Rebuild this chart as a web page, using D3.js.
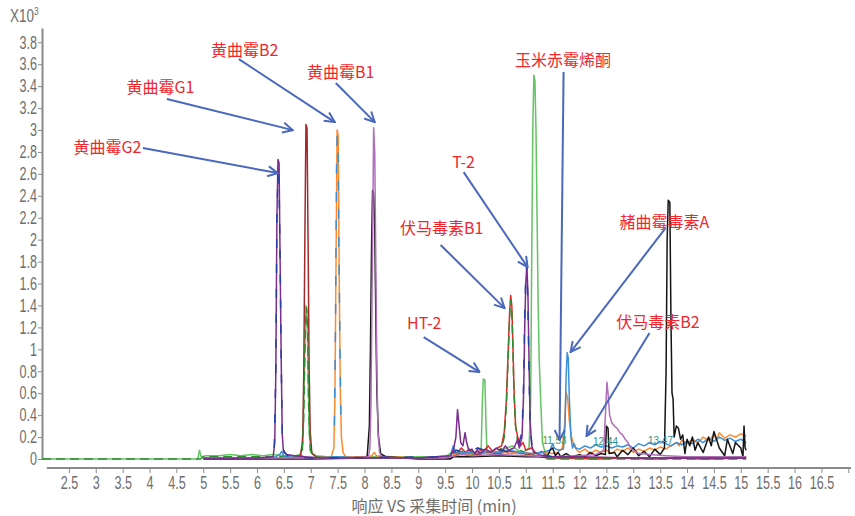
<!DOCTYPE html>
<html>
<head>
<meta charset="utf-8">
<script src="https://cdn.jsdelivr.net/npm/d3@7"></script>
<style>
  body { margin: 0; background: #fff; }
  svg { display: block; }
  .axis text { font-family: 'Liberation Sans', Arial, sans-serif; font-size: 18px; fill: #6e6e6e; }
  .axis line, .axis path { stroke: #8a8a8a; }
  .axis-title { font-family: 'Noto Sans CJK SC', sans-serif; font-size: 16px; fill: #6e6e6e; }
  .unit { font-family: 'Liberation Sans', Arial, sans-serif; font-size: 18px; fill: #6e6e6e; }
  .label { font-family: 'Noto Sans CJK SC', sans-serif; font-size: 16px; fill: #f0282d; }
  .peak-no { font-family: 'Liberation Sans Narrow', sans-serif; font-size: 10px; }
  .trace { fill: none; stroke-width: 1.5; stroke-linejoin: round; }
</style>
</head>
<body>
<svg width="855" height="516"></svg>
<script>
(function (d3) {
  'use strict'

  // time (min) vs response (x10^3)
  const xTicks = [2.5, 3, 3.5, 4, 4.5, 5, 5.5, 6, 6.5, 7, 7.5, 8, 8.5, 9, 9.5, 10, 10.5, 11, 11.5, 12, 12.5, 13, 13.5, 14, 14.5, 15, 15.5, 16, 16.5, 17]
  const xTickLabels = ['2.5', '3', '3.5', '4', '4.5', '5', '5.5', '6', '6.5', '7', '7.5', '8', '8.5', '9', '9.5', '10', '10.5', '11', '11.5', '12', '12.5', '13', '13.5', '14', '14.5', '15', '15.5', '16', '16.5', '']
  const yTicks = [0, 0.2, 0.4, 0.6, 0.8, 1, 1.2, 1.4, 1.6, 1.8, 2, 2.2, 2.4, 2.6, 2.8, 3, 3.2, 3.4, 3.6, 3.8]
  const yTickLabels = ['0', '0.2', '0.4', '0.6', '0.8', '1', '1.2', '1.4', '1.6', '1.8', '2', '2.2', '2.4', '2.6', '2.8', '3', '3.2', '3.4', '3.6', '3.8']

  const green = [[2, 0], [2.5, 0], [3, 0], [3.5, 0], [4, 0], [4.5, 0], [4.9, 0], [4.93, 0.08], [4.96, 0.02], [5.05, 0.03], [5.3, 0.03], [5.5, 0.04], [5.7, 0.03], [5.9, 0.04], [6.1, 0.03], [6.3, 0.04], [6.5, 0.03], [6.7, 0.03], [6.82, 0.04], [6.86, 0.3], [6.89, 1.0], [6.91, 1.4], [6.93, 1.35], [6.95, 0.8], [6.97, 0.25], [7.0, 0.06], [7.1, 0.03], [7.3, 0.02], [7.6, 0.02], [8.0, 0.02], [8.5, 0.02], [9.0, 0.02], [9.5, 0.02], [9.62, 0.06], [9.7, 0.08], [9.8, 0.05], [9.9, 0.06], [10.0, 0.04], [10.1, 0.06], [10.17, 0.08], [10.19, 0.5], [10.21, 0.73], [10.24, 0.72], [10.26, 0.3], [10.28, 0.06], [10.35, 0.04], [10.45, 0.06], [10.55, 0.08], [10.65, 0.1], [10.75, 0.12], [10.85, 0.08], [10.95, 0.06], [11.06, 0.1], [11.09, 0.5], [11.11, 1.8], [11.13, 3.0], [11.15, 3.5], [11.17, 3.45], [11.19, 3.0], [11.21, 2.2], [11.23, 1.4], [11.25, 0.9], [11.28, 0.5], [11.31, 0.15], [11.36, 0.06], [11.42, 0.03], [11.6, 0.01], [12, 0.01], [12.5, 0.01], [13, 0.01], [13.5, 0], [14, 0.01], [14.5, 0], [15.1, 0.01]]

  const darkGreen = [[2, 0], [3, 0], [4, 0], [4.95, 0], [5.0, 0.02], [5.5, 0.02], [6, 0.02], [6.5, 0.02], [6.84, 0.03], [6.87, 0.4], [6.9, 1.2], [6.92, 1.38], [6.94, 1.2], [6.96, 0.5], [6.99, 0.08], [7.1, 0.02], [8, 0.01], [9, 0.01], [9.6, 0.02], [9.7, 0.05], [9.9, 0.08], [10.1, 0.05], [10.3, 0.07], [10.45, 0.05], [10.55, 0.1], [10.6, 0.2], [10.64, 0.5], [10.67, 0.9], [10.7, 1.3], [10.72, 1.45], [10.74, 1.35], [10.76, 1.0], [10.78, 0.6], [10.81, 0.3], [10.85, 0.15], [10.9, 0.08], [11.0, 0.05], [11.2, 0.03], [11.4, 0], [12, 0], [13, 0], [14, 0], [15.1, 0]]

  const red = [[5.0, 0.01], [6, 0.01], [7, 0.01], [8, 0.01], [9, 0.01], [9.6, 0.02], [9.65, 0.08], [9.72, 0.05], [9.8, 0.1], [9.88, 0.06], [9.95, 0.09], [10.05, 0.05], [10.12, 0.1], [10.2, 0.06], [10.3, 0.12], [10.38, 0.07], [10.47, 0.1], [10.55, 0.12], [10.6, 0.25], [10.64, 0.55], [10.67, 0.95], [10.7, 1.35], [10.72, 1.49], [10.74, 1.4], [10.76, 1.05], [10.78, 0.65], [10.81, 0.3], [10.85, 0.2], [10.9, 0.12], [10.95, 0.15], [11.0, 0.08], [11.1, 0.1], [11.2, 0.05], [11.3, 0.07], [11.4, 0.02], [11.8, 0.01], [12.3, 0], [12.8, 0.01], [13.3, 0], [13.8, 0.01], [14.3, 0], [14.8, 0.01], [15.1, 0.02]]

  const darkRed = [[5.0, 0.01], [6, 0.01], [6.5, 0.01], [6.8, 0.02], [6.85, 0.15], [6.87, 0.8], [6.89, 2.0], [6.91, 3.05], [6.93, 3.02], [6.95, 2.0], [6.97, 0.8], [6.99, 0.25], [7.02, 0.05], [7.1, 0.02], [7.5, 0.01], [8.5, 0.01], [9.6, 0.01], [9.7, 0.04], [9.9, 0.06], [10.1, 0.04], [10.3, 0.06], [10.5, 0.05], [10.7, 0.07], [10.9, 0.05], [11.1, 0.04], [11.4, 0.01], [12.5, 0.01], [13.5, 0.01], [14.5, 0.01], [15.1, 0.01]]

  const orange = [[5.0, 0.01], [6, 0.01], [7, 0.01], [7.38, 0.02], [7.43, 0.1], [7.45, 0.6], [7.47, 1.8], [7.49, 3.0], [7.51, 2.95], [7.53, 1.6], [7.55, 0.6], [7.57, 0.2], [7.6, 0.06], [7.65, 0.02], [8.0, 0.02], [8.14, 0.03], [8.18, 0.06], [8.22, 0.03], [8.5, 0.02], [9, 0.01], [9.6, 0.02], [9.7, 0.05], [9.9, 0.04], [10.1, 0.06], [10.3, 0.05], [10.5, 0.07], [10.7, 0.05], [10.9, 0.06], [11.1, 0.05], [11.3, 0.06], [11.5, 0.05], [11.6, 0.06], [11.68, 0.1], [11.72, 0.3], [11.75, 0.61], [11.78, 0.55], [11.81, 0.35], [11.85, 0.2], [11.9, 0.12], [11.95, 0.08], [12.0, 0.06], [12.1, 0.09], [12.2, 0.05], [12.3, 0.08], [12.4, 0.06], [12.5, 0.08], [12.6, 0.05], [12.7, 0.09], [12.8, 0.07], [12.9, 0.1], [13.0, 0.06], [13.1, 0.09], [13.2, 0.07], [13.3, 0.1], [13.4, 0.08], [13.5, 0.11], [13.6, 0.09], [13.7, 0.12], [13.8, 0.15], [13.85, 0.12], [13.9, 0.17], [14.0, 0.14], [14.1, 0.18], [14.2, 0.15], [14.3, 0.2], [14.4, 0.17], [14.5, 0.22], [14.55, 0.18], [14.6, 0.24], [14.7, 0.19], [14.8, 0.22], [14.9, 0.2], [15.0, 0.23], [15.1, 0.21]]

  const lightBlue = [[5.0, 0.01], [6, 0.01], [6.3, 0.01], [6.42, 0.04], [6.46, 0.07], [6.5, 0.02], [7, 0.01], [7.5, 0.02], [8, 0.01], [9, 0.01], [9.6, 0.03], [9.65, 0.12], [9.7, 0.05], [9.9, 0.06], [10.1, 0.05], [10.3, 0.07], [10.5, 0.06], [10.7, 0.08], [10.9, 0.06], [11.1, 0.05], [11.3, 0.06], [11.45, 0.08], [11.5, 0.14], [11.53, 0.1], [11.6, 0.08], [11.7, 0.09], [11.73, 0.3], [11.75, 0.75], [11.77, 0.97], [11.79, 0.92], [11.81, 0.55], [11.84, 0.2], [11.87, 0.1], [11.9, 0.14], [11.93, 0.1], [12.0, 0.09], [12.1, 0.12], [12.2, 0.1], [12.3, 0.13], [12.4, 0.11], [12.5, 0.12], [12.6, 0.1], [12.7, 0.12], [12.8, 0.11], [12.9, 0.13], [13.0, 0.1], [13.1, 0.14], [13.2, 0.12], [13.3, 0.15], [13.4, 0.13], [13.5, 0.16], [13.6, 0.14], [13.7, 0.12], [13.8, 0.15], [13.9, 0.13], [14.0, 0.16], [14.1, 0.14], [14.2, 0.18], [14.3, 0.15], [14.4, 0.19], [14.5, 0.16], [14.6, 0.2], [14.7, 0.17], [14.8, 0.19], [14.9, 0.16], [15.0, 0.18], [15.1, 0.15]]

  const lightBlueB2 = [[7.44, 0.3], [7.46, 1.2], [7.48, 2.7], [7.49, 2.95], [7.51, 2.9], [7.52, 2.0], [7.54, 1.2], [7.56, 0.4]]

  const lightPurple = [[5, 0.005], [6, 0.01], [7, 0.01], [7.8, 0.01], [8.07, 0.02], [8.1, 0.1], [8.12, 0.5], [8.14, 1.5], [8.16, 2.5], [8.17, 3.02], [8.19, 2.8], [8.21, 1.8], [8.23, 0.8], [8.25, 0.25], [8.28, 0.06], [8.32, 0.02], [8.6, 0.01], [9.5, 0.01], [9.6, 0.02], [9.8, 0.04], [10, 0.03], [10.5, 0.04], [11, 0.03], [11.5, 0.02], [12.0, 0.03], [12.3, 0.04], [12.45, 0.08], [12.49, 0.5], [12.51, 0.7], [12.53, 0.6], [12.56, 0.4], [12.6, 0.33], [12.65, 0.3], [12.7, 0.28], [12.75, 0.24], [12.8, 0.22], [12.85, 0.18], [12.9, 0.15], [12.95, 0.1], [13.0, 0.08], [13.1, 0.05], [13.3, 0.04], [13.6, 0.03], [14, 0.02], [14.5, 0.02], [15.1, 0.02]]

  const black = [[5.0, 0], [6, 0], [7, 0], [8.0, 0.01], [8.05, 0.03], [8.09, 0.3], [8.11, 1.0], [8.13, 1.9], [8.15, 2.45], [8.17, 2.42], [8.19, 2.1], [8.21, 1.3], [8.23, 0.6], [8.26, 0.2], [8.3, 0.05], [8.4, 0.02], [9, 0], [9.6, 0], [9.65, 0.02], [10, 0.02], [10.5, 0.03], [11.0, 0.02], [11.4, 0.02], [11.45, 0.08], [11.5, 0.1], [11.55, 0.03], [11.6, 0.06], [11.65, 0.02], [11.75, 0.05], [11.85, 0.02], [12.0, 0.04], [12.1, 0.02], [12.2, 0.06], [12.3, 0.03], [12.4, 0.05], [12.48, 0.04], [12.5, 0.3], [12.53, 0.28], [12.55, 0.05], [12.65, 0.06], [12.7, 0.02], [12.8, 0.08], [12.9, 0.04], [13.0, 0.1], [13.1, 0.03], [13.2, 0.07], [13.3, 0.02], [13.4, 0.09], [13.5, 0.04], [13.58, 0.1], [13.61, 0.8], [13.63, 2.0], [13.65, 2.36], [13.68, 2.34], [13.7, 1.3], [13.72, 0.6], [13.74, 0.55], [13.76, 0.2], [13.8, 0.3], [13.84, 0.28], [13.88, 0.18], [13.92, 0.22], [13.96, 0.05], [14.0, 0.18], [14.05, 0.12], [14.1, 0.2], [14.15, 0.08], [14.2, 0.15], [14.3, 0.06], [14.4, 0.2], [14.45, 0.12], [14.5, 0.25], [14.6, 0.1], [14.7, 0.03], [14.75, 0.18], [14.85, 0.05], [14.9, 0.15], [15.0, 0.1], [15.04, 0.02], [15.06, 0.3], [15.08, 0.1], [15.1, 0.08]]

  const purple = [[5.0, 0.005], [6.0, 0.01], [6.3, 0.02], [6.33, 0.15], [6.35, 0.8], [6.37, 2.2], [6.39, 2.73], [6.41, 2.7], [6.43, 1.8], [6.45, 0.9], [6.47, 0.22], [6.49, 0.08], [6.55, 0.04], [6.7, 0.03], [6.9, 0.02], [7.2, 0.01], [8, 0.01], [9, 0.01], [9.6, 0.03], [9.66, 0.1], [9.7, 0.2], [9.73, 0.45], [9.76, 0.3], [9.79, 0.15], [9.83, 0.12], [9.87, 0.24], [9.9, 0.15], [9.94, 0.08], [10.0, 0.09], [10.05, 0.05], [10.1, 0.08], [10.15, 0.05], [10.25, 0.09], [10.35, 0.06], [10.45, 0.1], [10.55, 0.07], [10.62, 0.12], [10.68, 0.08], [10.78, 0.1], [10.85, 0.18], [10.88, 0.1], [10.93, 0.2], [10.96, 0.6], [10.98, 1.2], [11.0, 1.6], [11.02, 1.77], [11.04, 1.5], [11.06, 0.9], [11.08, 0.35], [11.11, 0.12], [11.15, 0.06], [11.25, 0.04], [11.4, 0.02], [12, 0.02], [13, 0.01], [14, 0.01], [15.1, 0.01]]

  const darkBlue = [[6.32, 0.1], [6.35, 0.8], [6.37, 2.2], [6.39, 2.6], [6.41, 2.5], [6.43, 1.8], [6.45, 0.9], [6.47, 0.2], [6.5, 0.06], [6.6, 0.02], [7, 0.01], [9.6, 0.02], [9.7, 0.08], [9.9, 0.06], [10.1, 0.1], [10.3, 0.07], [10.5, 0.09], [10.7, 0.06], [10.85, 0.1], [10.93, 0.25], [10.96, 0.7], [10.98, 1.3], [11.0, 1.7], [11.02, 1.77], [11.04, 1.4], [11.06, 0.8], [11.08, 0.3], [11.12, 0.1], [11.3, 0.04], [11.5, 0.02]]

  // compound names, text position and arrow from / to (data units)
  const compounds = ['黄曲霉G2', '黄曲霉G1', '黄曲霉B2', '黄曲霉B1', 'T-2', '伏马毒素B1', 'HT-2', '玉米赤霉烯酮', '赭曲霉毒素A', '伏马毒素B2']
  const labelAt = [[3.217, 2.844], [4.203, 3.391], [5.773, 3.728], [7.558, 3.528], [9.844, 2.707], [9.435, 2.106], [9.11, 1.24], [11.693, 3.637], [13.58, 2.16], [13.459, 1.249]]
  const arrowFrom = [[3.877, 2.835], [4.323, 3.282], [5.662, 3.646], [7.465, 3.428], [9.844, 2.616], [9.416, 1.951], [9.1, 1.112], [11.703, 3.528], [13.599, 2.106], [13.301, 1.149]]
  const arrowTo = [[6.387, 2.607], [6.665, 2.999], [7.446, 3.072], [8.19, 3.072], [11.033, 1.75], [10.606, 1.376], [10.141, 0.793], [11.628, 0.173], [11.833, 0.975], [12.13, 0.21]]

  const peakNumbers = ['11.53', '12.44', '13.47']
  const peakNumberAt = [[11.535, 0.137], [12.483, 0.128], [13.506, 0.137]]

  const series = [
    { data: green, color: '#62c462' },
    { data: darkRed, color: '#a3292c' },
    { data: red, color: '#e82424' },
    { data: darkGreen, color: '#2e8c32', dash: '9,5' },
    { data: orange, color: '#ff8a2e' },
    { data: lightBlue, color: '#3a8fd8' },
    { data: lightBlueB2, color: '#3a8fd8', dash: '10,18' },
    { data: black, color: '#141414' },
    { data: lightPurple, color: '#b06fbb' },
    { data: purple, color: '#7b2c8e' },
    { data: darkBlue, color: '#2b3fa3', dash: '9,16' }
  ]

  const svg = d3.select('svg')

  const x = d3.scaleLinear().domain([2, 17.05]).range([42, 851])
  const y = d3.scaleLinear().domain([0, 3.93]).range([459, 28])

  const arrowColor = '#4a68bd'
  const narrow = 'scale(0.7,1)'

  svg.
    append('defs').
    append('marker').
    attr('id', 'arrow').
    attr('viewBox', '0 0 12 12').
    attr('refX', 11).
    attr('refY', 6).
    attr('markerWidth', 12).
    attr('markerHeight', 12).
    attr('markerUnits', 'userSpaceOnUse').
    attr('orient', 'auto').
    append('path').
    attr('d', 'M1,1 L11,6 L1,11').
    attr('fill', 'none').
    attr('stroke', arrowColor).
    attr('stroke-width', 2)

  // y axis
  svg.
    append('g').
    attr('class', 'axis').
    attr('transform', `translate(${x(2)},0)`).
    call(d3.axisLeft(y).
      tickValues(yTicks).
      tickFormat((d, i) => yTickLabels[i]).
      tickSize(4).
      tickSizeOuter(0).
      tickPadding(3)).
    call(g => g.select('.domain').attr('stroke-width', 2)).
    call(g => g.selectAll('.tick text').attr('transform', narrow))

  // x axis, detached from the y axis
  const xAxisG = svg.
    append('g').
    attr('class', 'axis').
    attr('transform', 'translate(0,468)').
    call(d3.axisBottom(x).
      tickValues(xTicks).
      tickFormat((d, i) => xTickLabels[i]).
      tickSize(5).
      tickPadding(3)).
    call(g => g.selectAll('.tick text').attr('transform', narrow))

  xAxisG.select('.domain').remove()
  xAxisG.
    append('line').
    attr('x1', x(2.09)).
    attr('x2', x(17.05)).
    attr('stroke', '#8a8a8a').
    attr('stroke-width', 2)

  svg.
    append('text').
    attr('class', 'axis-title').
    attr('x', 434).
    attr('y', 512).
    attr('text-anchor', 'middle').
    text('响应 VS 采集时间 (min)')

  const unit = svg.
    append('text').
    attr('class', 'unit').
    attr('transform', 'translate(10,22) scale(0.75,1)')
  unit.append('tspan').text('X10')
  unit.append('tspan').attr('font-size', 11).attr('dy', -7).text('3')

  // traces
  const line = d3.line().
    x(d => x(d[0])).
    y(d => y(d[1]))

  svg.
    append('g').
    selectAll('path').
    data(series).
    enter().
    append('path').
    attr('class', 'trace').
    attr('stroke', d => d.color).
    attr('stroke-dasharray', d => d.dash || null).
    attr('d', d => line(d.data))

  svg.
    append('g').
    selectAll('text').
    data(peakNumbers).
    enter().
    append('text').
    attr('class', 'peak-no').
    attr('x', (d, i) => x(peakNumberAt[i][0])).
    attr('y', (d, i) => y(peakNumberAt[i][1])).
    attr('text-anchor', 'middle').
    attr('fill', (d, i) => i === 0 ? '#3aa040' : '#2f8f8a').
    text(d => d)

  // annotations
  svg.
    append('g').
    selectAll('line').
    data(compounds).
    enter().
    append('line').
    attr('x1', (d, i) => x(arrowFrom[i][0])).
    attr('y1', (d, i) => y(arrowFrom[i][1])).
    attr('x2', (d, i) => x(arrowTo[i][0])).
    attr('y2', (d, i) => y(arrowTo[i][1])).
    attr('stroke', arrowColor).
    attr('stroke-width', 2).
    attr('marker-end', 'url(#arrow)')

  svg.
    append('g').
    selectAll('text').
    data(compounds).
    enter().
    append('text').
    attr('class', 'label').
    attr('x', (d, i) => x(labelAt[i][0])).
    attr('y', (d, i) => y(labelAt[i][1])).
    attr('dy', '0.36em').
    attr('text-anchor', 'middle').
    text(d => d)
}(d3))
</script>
</body>
</html>
